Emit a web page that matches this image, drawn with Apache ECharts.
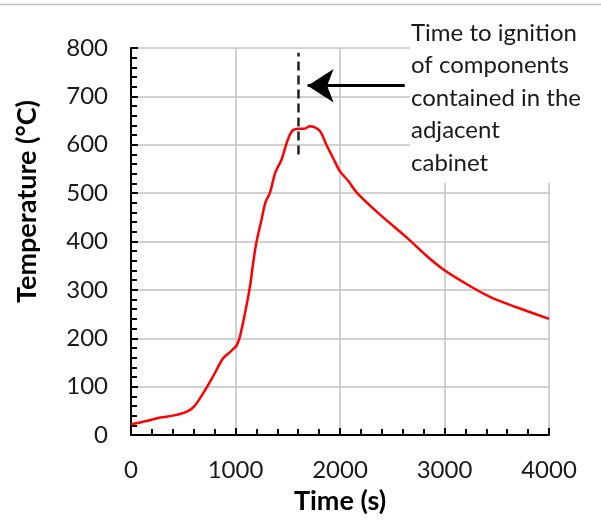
<!DOCTYPE html>
<html>
<head>
<meta charset="utf-8">
<script src="https://cdn.jsdelivr.net/npm/echarts@6/dist/echarts.min.js"></script>
<style>
  html, body { margin: 0; padding: 0; background: #fff; }
  #chart { width: 601px; height: 520px; }
</style>
</head>
<body>
<div id="chart"></div>
<script>
// Gas temperature history (time in seconds, temperature in °C)
const times = [0, 150, 280, 400, 530, 600, 690, 790, 880, 950, 1010, 1045, 1105, 1140, 1170, 1200,
  1250, 1285, 1330, 1380, 1440, 1490, 1540, 1600, 1660, 1710, 1750, 1810, 1870, 1940, 2000, 2080,
  2160, 2380, 2640, 2830, 2990, 3180, 3430, 3690, 4000];
const temps = [22, 29, 36, 40, 48, 58, 86, 123, 158, 172, 185, 206, 267, 309, 357, 398,
  446, 480, 501, 542, 569, 604, 628, 633, 633, 638, 637, 628, 600, 570, 545, 525,
  501, 456, 408, 370, 342, 316, 286, 264, 240];

// Ignition marker (vertical dashed line) and arrow pointing at it
const ignitionTime = 1600;
const ignitionSpan = [580, 790];
const arrowFrom = [2620, 722];
const arrowTo = [1690, 722];

const noteLines = ['Time to ignition', 'of components', 'contained in the', 'adjacent', 'cabinet'];

const xMin = 0, xMax = 4000, xStep = 1000;
const yMin = 0, yMax = 800, yStep = 100;

const FONT = 'Lato, "Open Sans", sans-serif';

const chart = echarts.init(document.getElementById('chart'), null, { renderer: 'canvas' });

const axisCommon = {
  axisLine: { show: true, onZero: false, lineStyle: { color: '#000', width: 2 } },
  axisTick: { show: true, inside: true, length: 7, lineStyle: { color: '#000', width: 2 } },
  minorTick: { show: true, splitNumber: 5, length: 6, lineStyle: { color: '#000', width: 2 } },
  splitLine: { show: true, lineStyle: { color: '#c2c2c2', width: 1.5 } },
  axisLabel: { color: '#1a1a1a', fontFamily: FONT, fontSize: 24, formatter: v => String(v) }
};

chart.setOption({
  animation: false,
  backgroundColor: '#fff',
  grid: { left: 131, right: 52, top: 48, bottom: 83.5, containLabel: false },
  xAxis: Object.assign({}, axisCommon, {
    type: 'value', min: xMin, max: xMax, interval: xStep,
    axisLabel: Object.assign({}, axisCommon.axisLabel, { margin: 23 }),
    name: 'Time (s)', nameLocation: 'middle', nameGap: 53,
    nameTextStyle: { fontFamily: FONT, fontSize: 27, fontWeight: 'bold', color: '#000' }
  }),
  yAxis: Object.assign({}, axisCommon, {
    type: 'value', min: yMin, max: yMax, interval: yStep,
    axisLabel: Object.assign({}, axisCommon.axisLabel, { margin: 23 })
  }),
  series: [{
    type: 'line',
    data: times.map((t, i) => [t, temps[i]]),
    smooth: 0.3,
    showSymbol: false,
    lineStyle: { color: '#ff0000', width: 2.5 },
    z: 5,
    markLine: {
      silent: true,
      symbol: ['none', 'none'],
      label: { show: false },
      animation: false,
      data: [
        [
          { coord: [ignitionTime, ignitionSpan[0]], lineStyle: { color: '#222', width: 2.5, type: [9, 5] } },
          { coord: [ignitionTime, ignitionSpan[1]] }
        ],
        [
          { coord: arrowFrom, symbol: 'none', lineStyle: { color: '#000', width: 3.2, type: 'solid' } },
          { coord: arrowTo, symbol: 'arrow', symbolSize: [25, 26] }
        ]
      ]
    }
  }],
  graphic: [
    // frame line across the top
    { type: 'line', z: 100, shape: { x1: 0, y1: 4.5, x2: 601, y2: 4.5 }, style: { stroke: '#bdbdbd', lineWidth: 1.5 } },
    // white panel behind the note
    { type: 'rect', z: 100, shape: { x: 410, y: 8, width: 191, height: 175 }, style: { fill: '#fff' } },
    {
      type: 'text', z: 101, left: 411, top: 17,
      style: {
        text: noteLines.join('\n'), fontFamily: FONT, fontSize: 24, lineHeight: 32.5,
        fill: '#1a1a1a', align: 'left'
      }
    },
    {
      type: 'text', z: 101, x: 27, y: 201.5, rotation: Math.PI / 2,
      style: {
        text: 'Temperature (°C)', fontFamily: FONT, fontSize: 27, fontWeight: 'bold',
        fill: '#000', align: 'center', verticalAlign: 'middle'
      }
    }
  ]
});
</script>
</body>
</html>
